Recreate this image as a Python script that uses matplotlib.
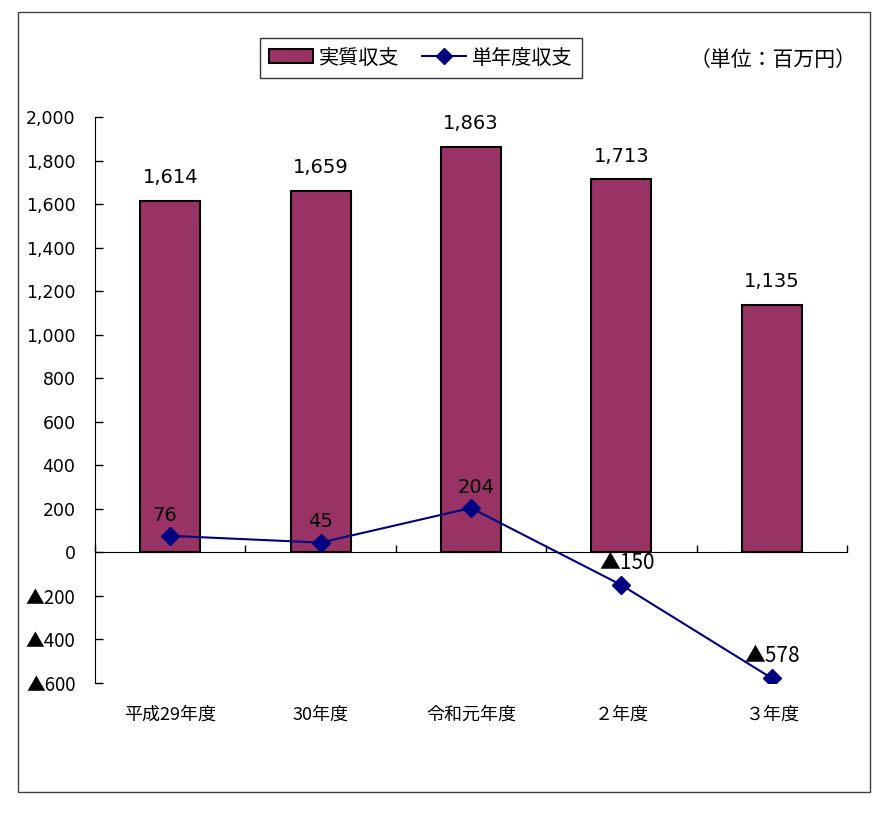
import numpy as np
import matplotlib
matplotlib.use('Agg')
import matplotlib.pyplot as plt
from matplotlib.patches import Rectangle
from matplotlib.lines import Line2D
from matplotlib.patches import Patch

plt.rcParams['font.family'] = ['Noto Sans CJK JP', 'DejaVu Sans']
num_font = ['DejaVu Sans', 'Noto Sans CJK JP']
jp_font = ['Noto Sans CJK JP', 'DejaVu Sans']

# data
categories = ['平成29年度', '30年度', '令和元年度', '２年度', '３年度']
jisshitsu = [1614, 1659, 1863, 1713, 1135]
tannendo = [76, 45, 204, -150, -578]
yticks = [-600, -400, -200, 0, 200, 400, 600, 800, 1000, 1200, 1400, 1600, 1800, 2000]


def fmt(v):
    # negative numbers are written with a triangle in Japanese reports
    s = '{:,}'.format(abs(v))
    return '▲' + s if v < 0 else s


def fam(v):
    # the big triangle comes from the CJK font
    return jp_font if v < 0 else num_font


fig = plt.figure(figsize=(8.95, 8.13), dpi=100)
fig.patches.append(Rectangle((18 / 895, 1 - 792 / 813), 852 / 895, 780 / 813,
                             transform=fig.transFigure, fill=False,
                             edgecolor='#404040', linewidth=1.0))

ax = fig.add_axes([95 / 895, 1 - 683 / 813, 752 / 895, 566 / 813])
x = np.arange(len(categories))

ax.bar(x, jisshitsu, width=0.4, color='#993366', edgecolor='black', linewidth=1.5, zorder=2)
ax.plot(x, tannendo, color='#000080', marker='D', markersize=9, linewidth=1.5, zorder=3)

for xi, v in zip(x, jisshitsu):
    ax.annotate(fmt(v), (xi, v), xytext=(0, 10), textcoords='offset points',
                ha='center', va='bottom', fontsize=14, family=num_font)
for xi, v in zip(x, tannendo):
    ax.annotate(fmt(v), (xi, v), xytext=(-4 if xi == 0 else (4 if xi in (2, 3) else 0), 8),
                textcoords='offset points', ha='center', va='bottom',
                fontsize=14 if v >= 0 else 15, family=fam(v))

ax.set_xlim(-0.5, len(categories) - 0.5)
ax.set_ylim(-600, 2000)
ax.set_yticks(yticks)
ax.set_yticklabels([fmt(v) for v in yticks], fontsize=12.5)
for lab, v in zip(ax.get_yticklabels(), yticks):
    lab.set_family(fam(v))
    if v < 0:
        lab.set_fontsize(13.5)
ax.tick_params(axis='y', direction='in', length=6, pad=14, width=1)

ax.spines['top'].set_visible(False)
ax.spines['right'].set_visible(False)
ax.spines['bottom'].set_position(('data', 0))
ax.set_xticks(np.arange(len(categories) + 1) - 0.5)
ax.set_xticklabels([])
ax.tick_params(axis='x', direction='in', length=5, width=1)

for xi, c in zip(x, categories):
    ax.annotate(c, (xi, -600), xytext=(0, -16), textcoords='offset points',
                ha='center', va='top', fontsize=13)

handles = [Patch(facecolor='#993366', edgecolor='black', linewidth=1.5),
           Line2D([], [], color='#000080', marker='D', markersize=8, linewidth=1.5)]
fig.legend(handles, ['実質収支', '単年度収支'], loc='center',
           bbox_to_anchor=(421 / 895, 1 - 58 / 813), ncol=2, fontsize=14.5,
           frameon=True, fancybox=False, edgecolor='black', handlelength=2.2,
           handletextpad=0.3, columnspacing=1.1, borderpad=0.45)
fig.text(857 / 895, 1 - 60 / 813, '（単位：百万円）', ha='right', va='center', fontsize=15)

fig.savefig('out.png', dpi=100)
